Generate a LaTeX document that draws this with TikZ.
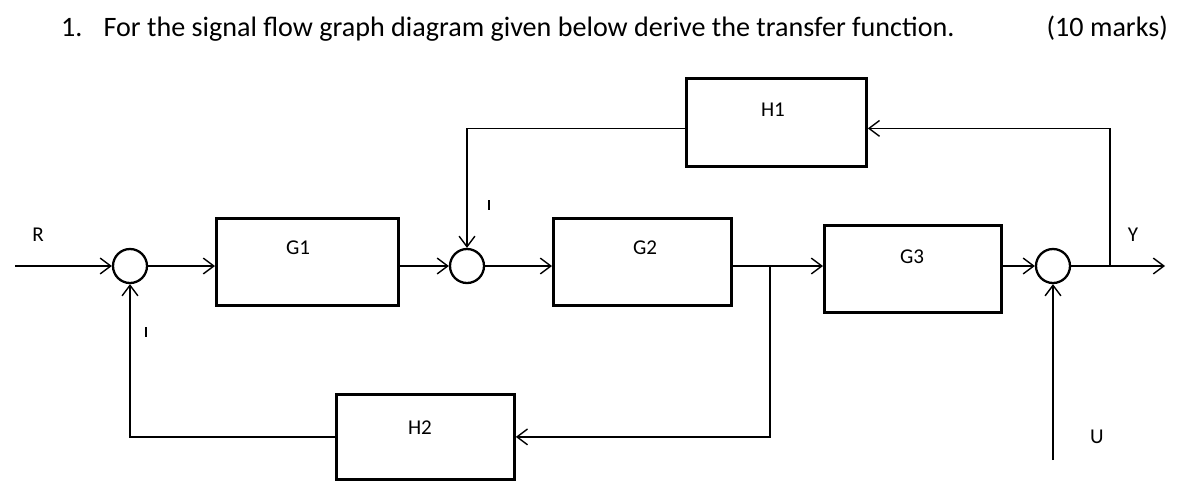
\documentclass[tikz,border=0pt]{standalone}
\usepackage{fontspec}
\setmainfont{Carlito}
\usetikzlibrary{arrows.meta}
\begin{document}
\begin{tikzpicture}[x=0.02cm,y=-0.02cm,
  blk/.style={draw,line width=1.6pt,inner sep=0pt,anchor=north west},
  sumc/.style={draw,line width=1.3pt,circle,minimum size=34*0.02cm,inner sep=0pt},
  arr/.style={-{Straight Barb[length=6pt,width=9pt]},line width=0.8pt},
  ln/.style={line width=0.8pt},
  minus/.style={line width=1.2pt},
  lbl/.style={font=\fontsize{12pt}{14pt}\selectfont}]
\useasboundingbox (0,0) rectangle (1191,501);
\node[anchor=base west,font=\fontsize{16pt}{18pt}\selectfont] (title) at (55,36) {1.\hspace{0.75em}For the signal flow graph diagram given below derive the transfer function.};
\node[anchor=base east,font=\fontsize{16pt}{18pt}\selectfont] (marks) at (1174,36) {(10 marks)};
% blocks
\node[blk,minimum width=182*0.02cm,minimum height=87*0.02cm] (G1) at (215,217) {};
\node[blk,minimum width=178*0.02cm,minimum height=87*0.02cm] (G2) at (552,217) {};
\node[blk,minimum width=177*0.02cm,minimum height=87*0.02cm] (G3) at (823,224) {};
\node[blk,minimum width=180*0.02cm,minimum height=88*0.02cm] (H1) at (685,77) {};
\node[blk,minimum width=178*0.02cm,minimum height=85*0.02cm] (H2) at (335,393) {};
\node[lbl] (tG1) at (298,248) {G1};
\node[lbl] (tG2) at (645,248) {G2};
\node[lbl] (tG3) at (912,257) {G3};
\node[lbl] (tH1) at (773,110) {H1};
\node[lbl] (tH2) at (420,428) {H2};
% sums
\node[sumc] (S1) at (130,266) {};
\node[sumc] (S2) at (467,266) {};
\node[sumc] (S3) at (1053,266) {};
% labels
\node[lbl] (R) at (38,235) {R};
\node[lbl] (Y) at (1133,235) {Y};
\node[lbl] (U) at (1097,437) {U};
\coordinate (m1a) at (146,327); \coordinate (m1b) at (146,337);
\coordinate (m2a) at (489,200); \coordinate (m2b) at (489,210);
\draw[minus] (m1a) -- (m1b);
\draw[minus] (m2a) -- (m2b);
% coordinates
\coordinate (in) at (15,266);
\coordinate (out) at (1165,266);
\coordinate (b1) at (770,266);
\coordinate (b2) at (1110,266);
\coordinate (uin) at (1053,460);
% forward path
\draw[arr] (in) -- (S1.west);
\draw[arr] (S1.east) -- (G1.west |- S1);
\draw[arr] (G1.east |- S2) -- (S2.west);
\draw[arr] (S2.east) -- (G2.west |- S2);
\draw[arr] (G2.east |- b1) -- (G3.west |- b1);
\draw[arr] (G3.east |- S3) -- (S3.west);
\draw[arr] (S3.east) -- (out);
% feedback
\draw[arr] (b1) -- (b1 |- H2.east) -- (H2.east);
\draw[arr] (H2.west) -| (S1.south);
\draw[arr] (b2) |- ([yshift=-6*0.02cm]H1.east);
\draw[arr] ([yshift=-6*0.02cm]H1.west) -| (S2.north);
\draw[arr] (uin) -- (S3.south);
\end{tikzpicture}
\end{document}
